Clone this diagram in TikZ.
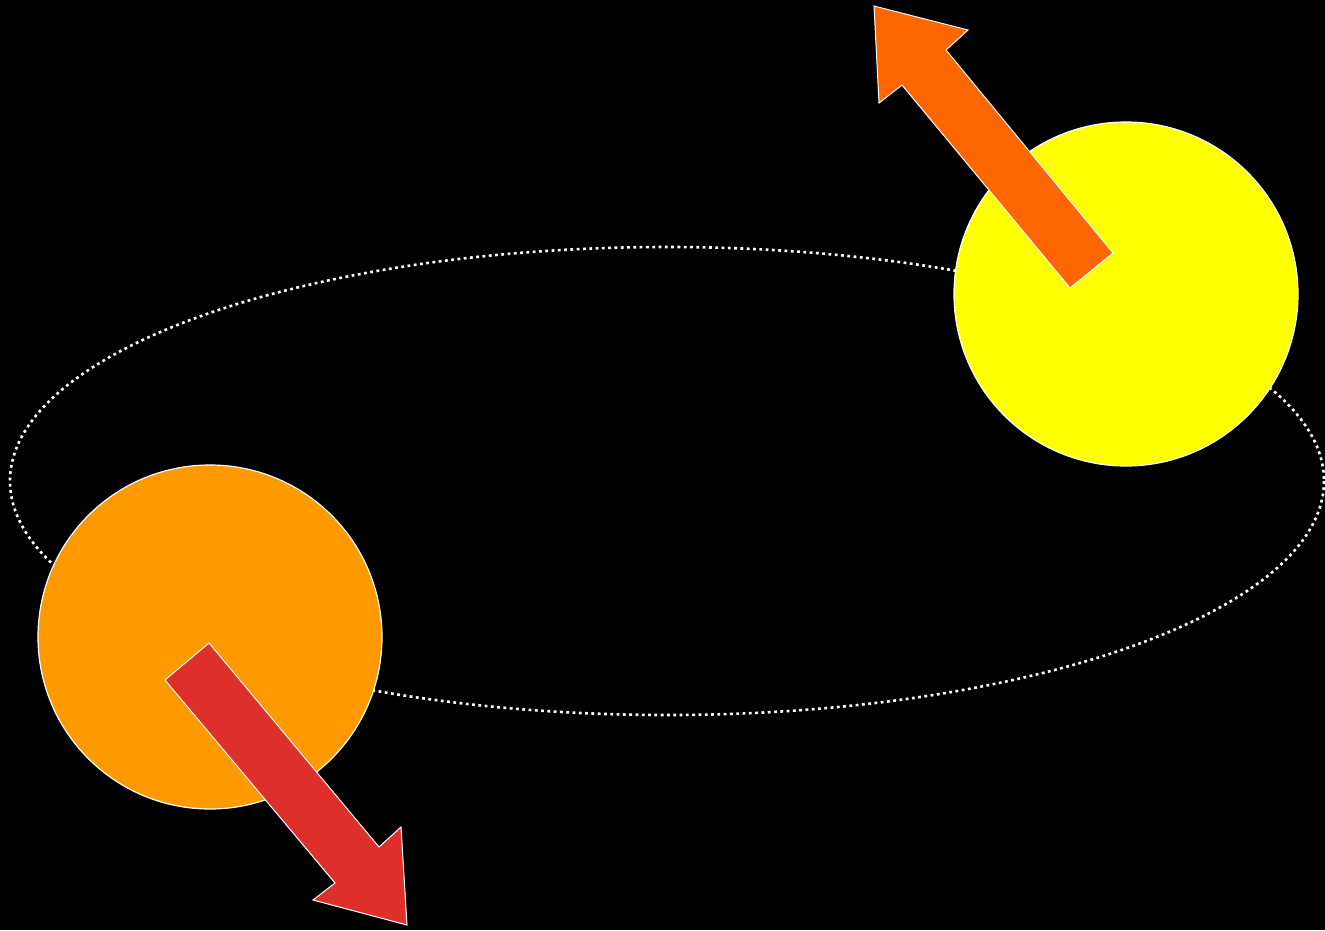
\documentclass[tikz,border=0pt]{standalone}
\begin{document}
\begin{tikzpicture}[x=1pt,y=-1pt,
  body/.style={draw=white,line width=1.2pt},
  arrowshape/.style={draw=white,line width=1pt,line join=miter},
  orbit/.style={white,line width=2.6pt,dash pattern=on 2.8pt off 3.5pt}]
\useasboundingbox[fill=black] (0,0) rectangle (1325,930);
\draw[orbit] (667,481) ellipse [x radius=657, y radius=234];
\node[body,circle,fill={rgb,255:red,255;green,255;blue,0},minimum size=344pt,inner sep=0pt] (yellow) at (1126,294) {};
\node[body,circle,fill={rgb,255:red,255;green,153;blue,0},minimum size=344pt,inner sep=0pt] (orange) at (210,637) {};
\draw[arrowshape,fill={rgb,255:red,255;green,102;blue,0}]
  (1113,253) -- (946,50) -- (968,30) -- (874,6) -- (879,103) -- (902,85) -- (1070,288) -- cycle;
\draw[arrowshape,fill={rgb,255:red,223;green,47;blue,42}]
  (165,680) -- (335,883) -- (313,900) -- (407,925) -- (401,827) -- (379,847) -- (209,643) -- cycle;
\end{tikzpicture}
\end{document}
